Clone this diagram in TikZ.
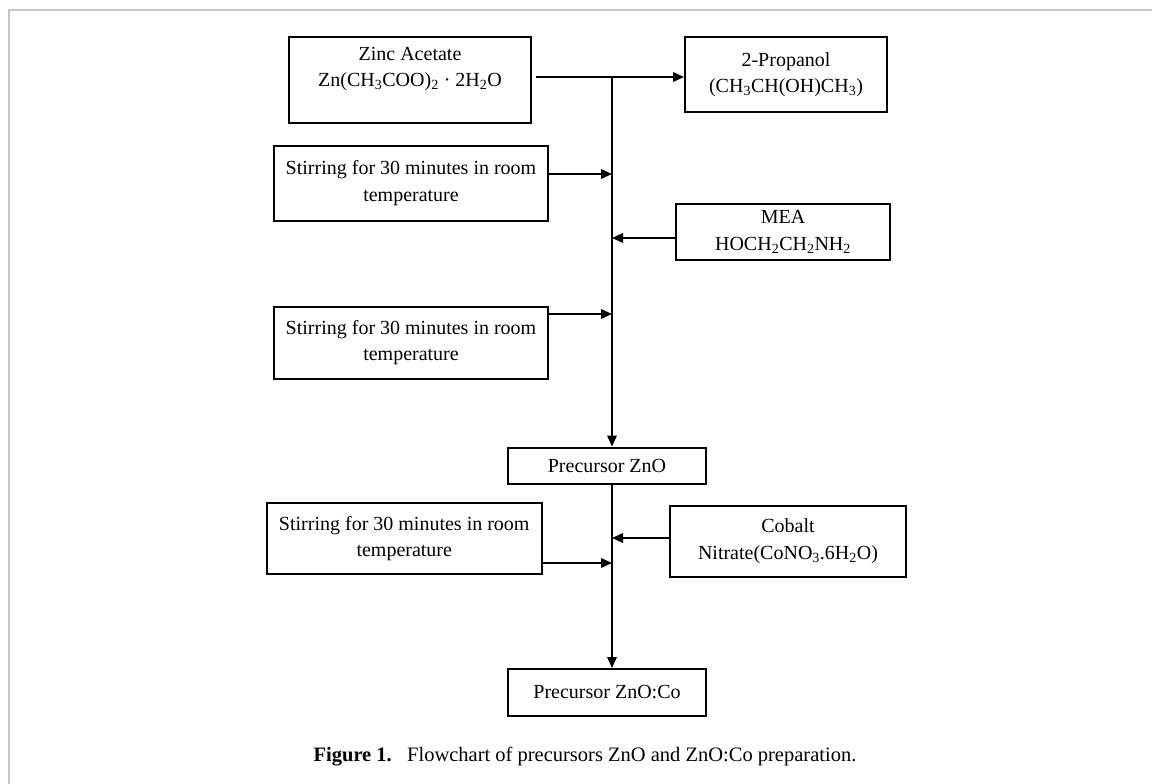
\documentclass[tikz,border=0pt]{standalone}
\usepackage{fontspec}
\setmainfont{Liberation Serif}
\usetikzlibrary{arrows.meta}
\begin{document}
\begin{tikzpicture}[x=1pt,y=-1pt]

\tikzstyle{process}=[rectangle,draw=black,line width=2pt,align=center,inner sep=2pt,font=\fontsize{20}{26.5}\selectfont]
\tikzstyle{flow}=[-{Triangle[length=11pt,width=9.5pt]},line width=2pt]

\useasboundingbox (0,0) rectangle (1152,784);
\draw[gray!45,line width=2pt] (1152,10.5) -- (8.5,10.5) -- (8.5,784);

%get boxes.
\node[process,minimum width=242pt,minimum height=85.5pt] (zinc) at (410,80.25) {Zinc Acetate\\Zn(CH\textsubscript{3}COO)\textsubscript{2} · 2H\textsubscript{2}O\\\mbox{}};
\node[process,minimum width=202pt,minimum height=74.5pt] (prop) at (786,74.75) {2-Propanol\\(CH\textsubscript{3}CH(OH)CH\textsubscript{3})};
\node[process,minimum width=274pt,minimum height=75.5pt] (stir1) at (411,183.25) {Stirring for 30 minutes in room\\temperature};
\node[process,minimum width=214pt,minimum height=56pt] (mea) at (783,232) {MEA\\HOCH\textsubscript{2}CH\textsubscript{2}NH\textsubscript{2}};
\node[process,minimum width=274pt,minimum height=71.5pt] (stir2) at (411,342.75) {Stirring for 30 minutes in room\\temperature};
\node[process,minimum width=198pt,minimum height=36.5pt] (zno) at (607,465.75) {Precursor ZnO};
\node[process,minimum width=274.5pt,minimum height=71pt] (stir3) at (404.25,538.5) {Stirring for 30 minutes in room\\temperature};
\node[process,minimum width=236pt,minimum height=71pt] (cobalt) at (788,541) {Cobalt\\Nitrate(CoNO\textsubscript{3}.6H\textsubscript{2}O)};
\node[process,minimum width=198pt,minimum height=47pt] (znoco) at (607,692.5) {Precursor ZnO:Co};

\node[font=\fontsize{20.5}{24}\selectfont] (caption) at (585,757) {\textbf{Figure 1.}\hspace{0.75em}Flowchart of precursors ZnO and ZnO:Co preparation.};

% joints on the main line
\coordinate (top) at (612,77);
\coordinate (j1) at (612,174);
\coordinate (j2) at (612,238);
\coordinate (j3) at (612,314);
\coordinate (j4) at (612,538);
\coordinate (j5) at (612,563);

\draw [flow,shorten <=4pt] (zinc.east |- top) -- (prop.west |- top);
\draw [flow] (top) -- (zno.north -| top);
\draw [flow] (stir1.east |- j1) -- (j1);
\draw [flow] (mea.west |- j2) -- (j2);
\draw [flow] (stir2.east |- j3) -- (j3);
\draw [flow] (zno.south -| top) -- (znoco.north -| top);
\draw [flow] (cobalt.west |- j4) -- (j4);
\draw [flow] (stir3.east |- j5) -- (j5);

\end{tikzpicture}
\end{document}
